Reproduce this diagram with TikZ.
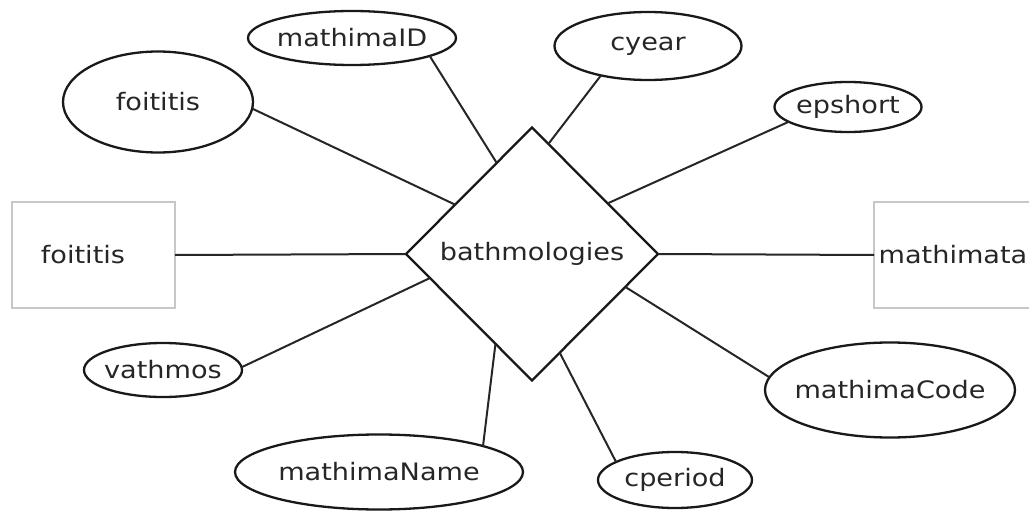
\documentclass[tikz,border=0pt]{standalone}
\usepackage{fontspec}
\setmainfont[FakeStretch=1.13]{DejaVu Sans}
\usetikzlibrary{shapes.geometric,calc}
\newcommand\zwtext[1]{\makebox[0pt]{#1}}
\begin{document}
\begin{tikzpicture}[x=1pt,y=-1pt,
  every node/.style={font=\fontsize{24}{29}\selectfont, text=black!85},
  attrib/.style={ellipse, draw=black!90, line width=2.3pt, inner sep=0pt, outer sep=0pt},
  relation/.style={diamond, draw=black!90, line width=2.3pt, inner sep=0pt, outer sep=0pt,
                   minimum width=252pt, minimum height=253pt},
  entity/.style={rectangle, draw=black!22, line width=1.6pt, inner sep=0pt, outer sep=0pt,
                 minimum width=163pt, minimum height=106pt},
  conn/.style={draw=black!85, line width=2pt}]
\useasboundingbox (0,0) rectangle (1029,511);
\clip (0,0) rectangle (1029,511);

% relationship
\node[relation] (d) at (532,254) {\zwtext{bathmologies}};

% entities
\node[entity] (fr) at (93.5,255) {};
\node (frt) at (83,255) {foititis};
\node[entity] (mr) at (955.5,255) {};
\node (mrt) at (953,255) {mathimata};

% attributes
\node[attrib, minimum width=190pt, minimum height=101pt] (fe) at (158,102) {\zwtext{foititis}};
\node[attrib, minimum width=208pt, minimum height=54pt]  (mid) at (352,38) {\zwtext{mathimaID}};
\node[attrib, minimum width=187pt, minimum height=68pt]  (cy) at (648,46) {\zwtext{cyear}};
\node[attrib, minimum width=147pt, minimum height=50pt]  (ep) at (848,107) {\zwtext{epshort}};
\node[attrib, minimum width=158pt, minimum height=54pt]  (va) at (163,370) {\zwtext{vathmos}};
\node[attrib, minimum width=250pt, minimum height=95pt]  (mc) at (890,390) {\zwtext{mathimaCode}};
\node[attrib, minimum width=288pt, minimum height=75pt]  (mn) at (379,472) {\zwtext{mathimaName}};
\node[attrib, minimum width=154pt, minimum height=56pt]  (cp) at (675,480) {\zwtext{cperiod}};

% entity links
\draw[conn] (fr.east) -- (d.west);
\draw[conn] (d.east) -- (mr.west);

% attribute links
\draw[conn] (fe.-4)   -- ($(d.north)!0.61!(d.west)$);
\draw[conn] (mid.-13) -- ($(d.north)!0.28!(d.west)$);
\draw[conn] (cy.-148) -- ($(d.north)!0.13!(d.east)$);
\draw[conn] (ep.194)  -- ($(d.north)!0.60!(d.east)$);
\draw[conn] (va.2)    -- ($(d.west)!0.19!(d.south)$);
\draw[conn] (mn.14)   -- ($(d.west)!0.71!(d.south)$);
\draw[conn] (cp.163)  -- ($(d.south)!0.22!(d.east)$);
\draw[conn] (mc.174)  -- ($(d.south)!0.74!(d.east)$);
\end{tikzpicture}
\end{document}
